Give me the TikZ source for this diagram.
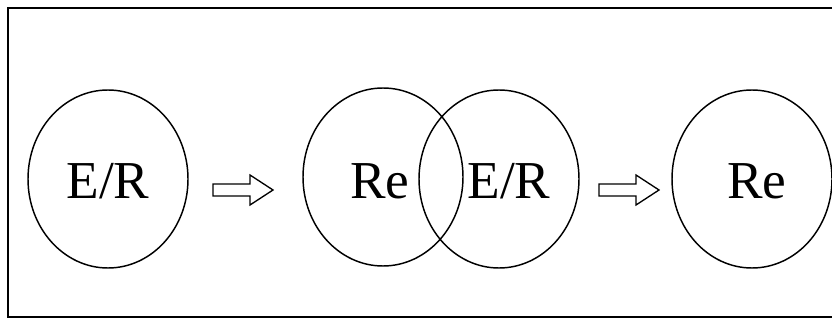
\documentclass[tikz,border=0pt]{standalone}
\usepackage{fontspec}
\setmainfont{Liberation Serif}
\usetikzlibrary{shapes.geometric}

\begin{document}
\begin{tikzpicture}[
    x=.75pt,y=-.75pt,
    frame/.style={line width=1.6pt},
    phase/.style={ellipse,draw,line width=1.1pt,inner sep=0pt,
        minimum width=120pt,minimum height=133.5pt},
    phase label/.style={inner sep=0pt,font=\fontsize{40}{44}\selectfont},
    hollow arrow/.style={line width=1pt,line join=miter}
]
    \useasboundingbox (0,0) rectangle (832,320);
    \draw[frame] (8,8) rectangle (845,317);

    % Phases before and after each step.
    \node[phase] (start) at (108,179) {};
    \node[phase] (mixRe) at (383,177) {};
    \node[phase] (mixER) at (499,179) {};
    \node[phase] (final) at (752,179) {};

    \node[phase label] (startText) at (108,181) {E/R};
    \node[phase label] (mixReText) at (380,181) {Re};
    \node[phase label] (mixERText) at (509,181) {E/R};
    \node[phase label] (finalText) at (757,181) {Re};

    % Open block arrows between the stages.
    \coordinate (stepOne) at (213,190);
    \coordinate (stepTwo) at (599,190);
    \foreach \tail in {stepOne,stepTwo}
        \draw[hollow arrow] (\tail) ++(0,-6) -- ++(37,0) -- ++(0,-9)
            -- ++(23,15) -- ++(-23,15) -- ++(0,-9) -- ++(-37,0) -- cycle;
\end{tikzpicture}
\end{document}
